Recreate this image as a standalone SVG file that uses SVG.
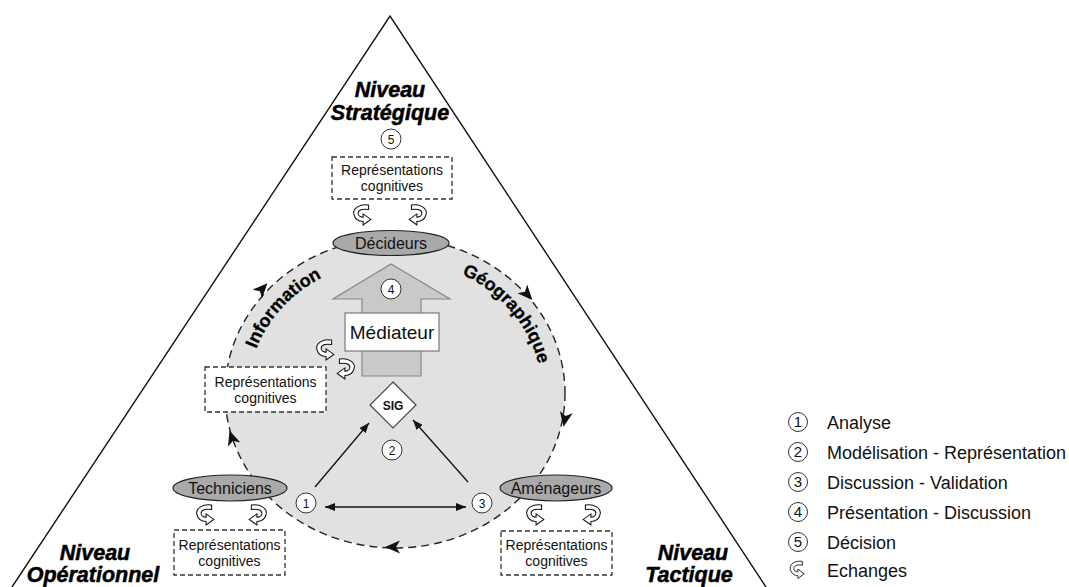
<svg xmlns="http://www.w3.org/2000/svg" width="1069" height="587" viewBox="0 0 1069 587">
<style>
.t{font-family:"Liberation Sans",Arial,sans-serif;fill:#111}
.lvl{font-family:"Liberation Sans",Arial,sans-serif;font-weight:bold;font-style:italic;font-size:21.5px;fill:#000;stroke:#000;stroke-width:0.5;text-anchor:middle}
.arc{font-family:"Liberation Sans",Arial,sans-serif;font-weight:bold;font-size:18px;fill:#000;stroke:#000;stroke-width:0.3}
.box{fill:#fff;stroke:#333;stroke-width:1.3;stroke-dasharray:5 3}
.rep{font-family:"Liberation Sans",Arial,sans-serif;font-size:14px;fill:#111;text-anchor:middle}
.node{fill:#a9a9a9;stroke:#222;stroke-width:1.2}
.nlab{font-family:"Liberation Sans",Arial,sans-serif;font-size:16px;fill:#111;text-anchor:middle}
.num{fill:#fff;stroke:#333;stroke-width:1}
.numt{font-family:"Liberation Sans",Arial,sans-serif;font-size:12px;fill:#111;text-anchor:middle}
.lnum{font-family:"Liberation Sans",Arial,sans-serif;font-size:15px;fill:#111;text-anchor:middle}
.leg{font-family:"Liberation Sans",Arial,sans-serif;font-size:18px;fill:#111}
.ex{fill:#fff;stroke:#111;stroke-width:0.95}
.conn{stroke:#111;stroke-width:1.3;fill:none}
.head{fill:#111}
</style>
<defs>
<marker id="ah" viewBox="0 0 10 8" refX="10" refY="4" markerWidth="10" markerHeight="8" markerUnits="userSpaceOnUse" orient="auto-start-reverse">
<path d="M0,0 L10,4 L0,8 Z" fill="#111"/>
</marker>
<path id="exL" class="ex" d="M6,-9 C-2,-10.5 -8.5,-6 -7.5,-1 C-6.5,3.5 -3,6 1,6 L1,9 L8,4 L1,-1 L1,2 C-1.5,2 -3.5,0.5 -3.5,-1.5 C-3.5,-4.5 0,-6 6,-5 Z"/>
<path id="stealth" d="M8,0 L-7,-6.5 L-3,0 L-7,6.5 Z"/>
<path id="pInfo" d="M 248,393 A 147,133 0 0 1 395,260"/>
<path id="pGeo" d="M 395,260 A 147,133 0 0 1 542,393"/>
</defs>

<g id="triangle">
<polyline points="12,587 390,16 766,587" fill="none" stroke="#111" stroke-width="1.4"/>
</g>

<g id="cycle">
<ellipse cx="395" cy="393" rx="170" ry="155" fill="#e1e1e1" stroke="#222" stroke-width="1.4" stroke-dasharray="8 5"/>
<use href="#stealth" class="head" transform="translate(262,289) rotate(-46.7)"/>
<use href="#stealth" class="head" transform="translate(527,294) rotate(47.9)"/>
<use href="#stealth" class="head" transform="translate(565,419) rotate(100.6)"/>
<use href="#stealth" class="head" transform="translate(393,547) rotate(180)"/>
<use href="#stealth" class="head" transform="translate(232,438) rotate(-108.3)"/>
<text class="arc"><textPath href="#pInfo" startOffset="43%" text-anchor="middle">Information</textPath></text>
<text class="arc"><textPath href="#pGeo" startOffset="59%" text-anchor="middle">Géographique</textPath></text>
</g>

<g id="mediateur-arrow">
<path d="M362,376 L362,299 L333,299 L391,264 L450,299 L421,299 L421,376 Z" fill="#c9c9c9" stroke="#888" stroke-width="1.2"/>
<circle class="num" cx="391" cy="289" r="10"/>
<text class="numt" x="391" y="293.5">4</text>
</g>

<g id="mediateur">
<rect x="345" y="313" width="94" height="38" fill="#fff" stroke="#777" stroke-width="1.2"/>
<text class="t" x="392" y="339" font-size="19" text-anchor="middle">Médiateur</text>
</g>

<g id="sig">
<polygon points="393,382 416,405 393,428 370,405" fill="#fff" stroke="#444" stroke-width="1.2"/>
<text class="t" x="393" y="409.5" font-size="12" font-weight="bold" text-anchor="middle">SIG</text>
</g>

<g id="connectors">
<line class="conn" x1="315" y1="487" x2="369" y2="423" marker-end="url(#ah)"/>
<line class="conn" x1="468" y1="482" x2="413" y2="420" marker-end="url(#ah)"/>
<line class="conn" x1="325" y1="507" x2="466" y2="507" marker-start="url(#ah)" marker-end="url(#ah)"/>
</g>

<g id="step1"><circle class="num" cx="306" cy="503" r="10"/><text class="numt" x="306" y="507.5">1</text></g>
<g id="step2"><circle class="num" cx="392" cy="450" r="10"/><text class="numt" x="392" y="454.5">2</text></g>
<g id="step3"><circle class="num" cx="482" cy="503" r="10"/><text class="numt" x="482" y="507.5">3</text></g>
<g id="step5"><circle class="num" cx="391" cy="139" r="10"/><text class="numt" x="391" y="143.5">5</text></g>

<g id="rep-strategique">
<rect class="box" x="332" y="157" width="120" height="42"/>
<text class="rep" x="392" y="175">Représentations</text>
<text class="rep" x="392" y="191">cognitives</text>
</g>
<g id="rep-information">
<rect class="box" x="205" y="367" width="121" height="45"/>
<text class="rep" x="265.5" y="387">Représentations</text>
<text class="rep" x="265.5" y="403">cognitives</text>
</g>
<g id="rep-operationnel">
<rect class="box" x="174" y="530" width="111" height="45"/>
<text class="rep" x="229.5" y="550">Représentations</text>
<text class="rep" x="229.5" y="566">cognitives</text>
</g>
<g id="rep-tactique">
<rect class="box" x="501" y="531" width="111" height="44"/>
<text class="rep" x="556.5" y="550">Représentations</text>
<text class="rep" x="556.5" y="566">cognitives</text>
</g>

<g id="decideurs">
<ellipse class="node" cx="391" cy="243" rx="58" ry="12.5"/>
<text class="nlab" x="391" y="249">Décideurs</text>
</g>
<g id="techniciens">
<ellipse class="node" cx="230" cy="488" rx="57" ry="13"/>
<text class="nlab" x="230" y="494">Techniciens</text>
</g>
<g id="amenageurs">
<ellipse class="node" cx="556" cy="488" rx="56" ry="13"/>
<text class="nlab" x="556" y="494">Aménageurs</text>
</g>

<g id="echanges-icons">
<use href="#exL" transform="translate(362,215) scale(1.1)"/>
<use href="#exL" transform="translate(418,215) scale(-1.1,1.1)"/>
<use href="#exL" transform="translate(325,350) scale(1.1)"/>
<use href="#exL" transform="translate(346,369) scale(-1.1,1.1)"/>
<use href="#exL" transform="translate(205,515) scale(1.1)"/>
<use href="#exL" transform="translate(258,515) scale(-1.1,1.1)"/>
<use href="#exL" transform="translate(535,515) scale(1.1)"/>
<use href="#exL" transform="translate(592,515) scale(-1.1,1.1)"/>
</g>

<g id="niveau-strategique">
<text class="lvl" x="390" y="97">Niveau</text>
<text class="lvl" x="390" y="120">Stratégique</text>
</g>
<g id="niveau-operationnel">
<text class="lvl" x="95" y="560">Niveau</text>
<text class="lvl" x="93" y="582">Opérationnel</text>
</g>
<g id="niveau-tactique">
<text class="lvl" x="693" y="560">Niveau</text>
<text class="lvl" x="689" y="582">Tactique</text>
</g>

<g id="legend">
<circle class="num" cx="798" cy="422" r="9.5"/><text class="lnum" x="798" y="427">1</text><text class="leg" x="827" y="428.5">Analyse</text>
<circle class="num" cx="798" cy="452" r="9.5"/><text class="lnum" x="798" y="457">2</text><text class="leg" x="827" y="458.5">Modélisation - Représentation</text>
<circle class="num" cx="798" cy="482" r="9.5"/><text class="lnum" x="798" y="487">3</text><text class="leg" x="827" y="488.5">Discussion - Validation</text>
<circle class="num" cx="798" cy="512" r="9.5"/><text class="lnum" x="798" y="517">4</text><text class="leg" x="827" y="518.5">Présentation - Discussion</text>
<circle class="num" cx="798" cy="542" r="9.5"/><text class="lnum" x="798" y="547">5</text><text class="leg" x="827" y="548.5">Décision</text>
<use href="#exL" transform="translate(797,570) scale(0.9,0.95)"/><text class="leg" x="827" y="577">Echanges</text>
</g>
</svg>
